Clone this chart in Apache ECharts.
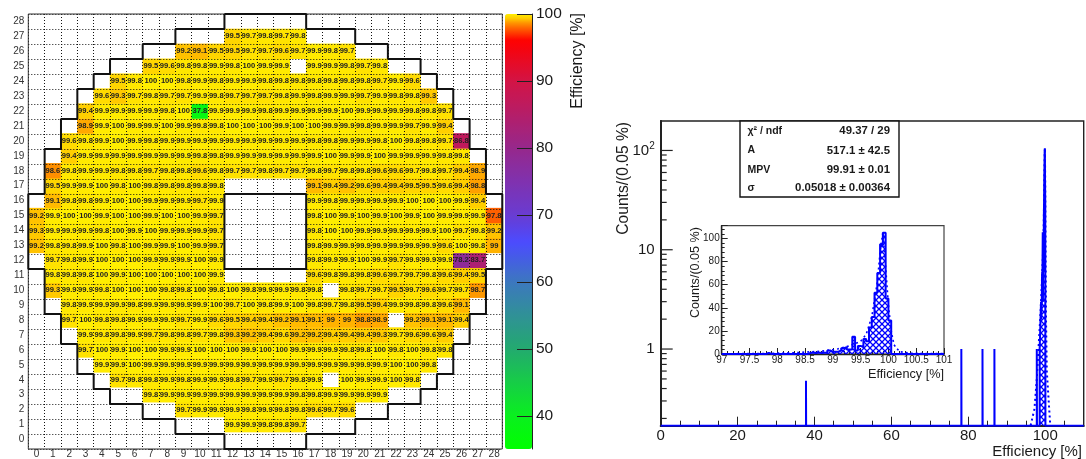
<!DOCTYPE html>
<html><head><meta charset="utf-8">
<script src="https://cdn.jsdelivr.net/npm/echarts@6/dist/echarts.min.js"></script>
<style>html,body{margin:0;padding:0;background:#fff}#c{width:1086px;height:459px}</style>
</head><body><div id="c"></div>
<script>
const colLabels = Array.from({length:29},(_,i)=>String(i));
const rowLabels = Array.from({length:29},(_,i)=>String(i));
const _ = null;
// row index -> first column, then efficiency per column (null = no value)
const rowStart = {1:12,2:9,3:7,4:5,5:4,6:3,7:3,8:2,9:2,10:1,11:1,12:1,13:0,14:0,15:0,16:1,17:1,18:1,19:2,20:2,21:3,22:3,23:4,24:5,25:7,26:9,27:12};
const rowValues = {
 27:[99.5,99.7,99.8,99.7,99.8],
 26:[99.2,99.1,99.5,99.5,99.7,99.7,99.6,99.7,99.9,99.8,99.7],
 25:[99.5,99.6,99.8,99.8,99.9,99.8,100,99.9,99.9,_,99.9,99.9,99.8,99.7,99.8],
 24:[99.5,99.8,100,100,99.8,99.9,99.8,99.9,99.9,99.8,99.8,99.8,99.8,99.8,99.8,99.8,99.7,99.9,99.6],
 23:[99.6,99.3,99.7,99.8,99.7,99.7,99.9,99.8,99.7,99.7,99.7,99.8,99.9,99.8,99.9,99.9,99.7,99.9,99.8,99.8,99.3],
 22:[99.4,99.9,99.9,99.9,99.9,99.8,100,37.8,99.9,99.9,99.9,99.8,99.9,99.9,99.9,99.9,100,99.9,99.9,99.9,99.8,99.8,99.7],
 21:[98.9,99.9,100,99.9,99.9,100,99.9,99.8,99.8,100,100,100,99.9,100,100,99.9,99.9,99.8,99.9,99.9,99.7,99.9,99.4],
 20:[99.6,99.8,99.9,100,99.9,99.8,99.9,99.9,99.9,99.9,99.9,99.9,99.9,99.9,99.9,99.8,99.8,99.9,99.9,99.8,100,99.8,99.8,99.7,86.8],
 19:[99.4,99.9,99.9,99.9,99.9,99.9,99.9,99.9,99.8,99.8,99.9,99.9,99.9,99.9,99.9,99.9,100,99.9,99.9,100,99.9,99.9,99.9,99.8,99.8],
 18:[98.6,99.8,99.9,99.9,99.8,99.8,99.7,99.8,99.8,99.6,99.8,99.7,99.7,99.8,99.7,99.7,99.8,99.7,99.8,99.8,99.6,99.6,99.7,99.8,99.7,99.4,98.9],
 17:[99.5,99.9,99.9,100,99.8,100,99.8,99.8,99.8,99.8,99.8,_,_,_,_,_,99.1,99.4,99.2,99.6,99.4,99.4,99.5,99.5,99.6,99.4,98.8],
 16:[99.1,99.8,99.8,99.9,100,100,99.9,99.9,99.9,99.7,99.9,_,_,_,_,_,99.9,99.8,99.9,99.9,99.9,99.9,100,100,100,99.9,99.4],
 15:[99.2,99.9,100,100,99.9,100,100,99.9,100,100,99.9,99.7,_,_,_,_,_,99.8,100,99.9,100,99.9,100,99.9,100,99.9,99.9,99.9,97.8],
 14:[99.3,99.9,99.9,99.9,99.8,100,99.9,100,99.9,99.9,99.9,99.7,_,_,_,_,_,99.8,100,100,99.9,99.9,99.9,99.9,99.9,100,99.7,99.8,99.2],
 13:[99.2,99.8,99.8,99.9,100,99.8,100,99.9,99.9,100,99.9,99.7,_,_,_,_,_,99.8,99.9,99.9,99.9,99.9,99.9,99.9,99.9,99.6,100,99.8,99],
 12:[99.7,99.8,99.9,100,100,100,99.9,99.9,99.9,100,99.9,_,_,_,_,_,99.8,99.9,99.9,100,99.9,99.7,99.9,99.9,99.9,78.2,83.7],
 11:[99.8,99.8,99.8,100,99.9,100,100,100,100,100,99.9,_,_,_,_,_,99.6,99.8,99.8,99.8,99.6,99.7,99.7,99.8,99.6,99.4,99.5],
 10:[99.3,99.9,99.9,99.8,100,100,100,99.8,99.8,100,99.8,100,99.8,99.9,99.9,99.8,99.8,_,99.8,99.7,99.7,99.5,99.7,99.6,99.7,99.7,98.7],
 9:[99.8,99.9,99.9,99.9,99.8,99.9,99.9,99.9,99.9,100,99.7,100,99.8,99.9,100,99.8,99.7,99.8,99.5,99.4,99.9,99.8,99.8,99.6,99.1],
 8:[99.7,100,99.8,99.8,99.9,99.9,99.9,99.7,99.9,99.6,99.5,99.4,99.4,99.2,99.1,99.1,99,99,98.8,98.9,_,99.2,99.1,99.1,99.4],
 7:[99.9,99.8,99.8,99.9,99.7,99.8,99.8,99.7,99.8,99.3,99.2,99.4,99.6,99.2,99.2,99.4,99.4,99.4,99.3,99.7,99.6,99.6,99.4],
 6:[99.7,100,99.9,100,100,99.9,99.9,100,100,100,99.9,100,100,99.9,99.9,99.9,99.8,99.8,100,99.8,100,99.8,99.8],
 5:[99.9,99.9,100,99.9,99.9,99.9,99.9,99.9,99.9,99.9,99.9,99.9,99.9,99.9,99.9,99.9,99.9,99.9,100,100,99.8],
 4:[99.7,99.8,99.8,99.9,99.8,99.9,99.9,99.8,99.7,99.9,99.7,99.8,99.9,_,100,99.9,99.9,100,99.8],
 3:[99.8,99.9,99.9,99.9,99.9,99.9,99.9,99.9,99.9,99.8,99.8,99.9,99.9,99.9,99.9],
 2:[99.7,99.9,99.9,99.9,99.8,99.9,99.8,99.8,99.6,99.7,99.6],
 1:[99.9,99.9,99.8,99.8,99.7]
};
// detector outline, in [column, row] units
const outline = [[12,29],[12,28],[9,28],[9,27],[7,27],[7,26],[5,26],[5,25],[4,25],[4,24],[3,24],[3,22],[2,22],[2,20],[1,20],[1,17],[0,17],[0,12],[1,12],[1,9],[2,9],[2,7],[3,7],[3,5],[4,5],[4,4],[5,4],[5,3],[7,3],[7,2],[9,2],[9,1],[12,1],[12,0],[17,0],[17,1],[20,1],[20,2],[22,2],[22,3],[24,3],[24,4],[25,4],[25,5],[26,5],[26,7],[27,7],[27,9],[28,9],[28,12],[29,12],[29,17],[28,17],[28,20],[27,20],[27,22],[26,22],[26,24],[25,24],[25,25],[24,25],[24,26],[22,26],[22,27],[20,27],[20,28],[17,28],[17,29],[12,29]];
const hole = [[12,17],[17,17],[17,12],[12,12],[12,17]];
const frame = [[0,0],[29,0],[29,29],[0,29],[0,0]];
const colorbarTicks = [40,50,60,70,80,90,100];
const paletteStops = [[35.1,[0,255,0]],[40,[10,240,30]],[50,[35,170,110]],[60,[60,120,190]],[66,[75,75,255]],[70,[105,60,210]],[80,[150,40,140]],[90,[210,20,70]],[96.2,[255,0,0]],[98.6,[255,135,0]],[99.3,[255,195,0]],[100,[255,238,0]]];

// histogram of cell efficiencies, 0.05 % bins starting at 97
const binStart = 97, binWidth = 0.05;
const binCounts = [
 0,0,0,0,0,0,0,0,0,0, 0,0,0,0,0,0,1,0,0,0,
 0,0,0,0,0,0,0,0,0,0, 0,1,1,1,1,1,1,1,3,2,
 2,2,3,5,6,4,4,15,3,7, 6,13,11,23,32,53,70,95,105,48,
 29,0,0,0,0,0,0,0,0,0, 0,0,0,0,0,0,0,0,0,0];
const outlierX = [37.8,78.2,83.7,86.8];
const outlierCounts = [0.48,1,1,1];
const fitCurve = [[96.2,0.17],[97.2,0.25],[97.8,0.5],[98.3,1.1],[98.8,2.4],[99.1,4.5],[99.3,7],[99.5,11],[99.6,17],[99.7,32],[99.8,62],[99.85,88],[99.9,105],[99.95,75],[100,42],[100.05,20],[100.1,8],[100.2,2],[100.4,0.6],[101.3,0.17]];
const logMin = 0.169, logMax = 198;
const yMajor = [1,10,100];
const yMinor = [0.2,0.3,0.4,0.5,0.6,0.7,0.8,0.9,2,3,4,5,6,7,8,9,20,30,40,50,60,70,80,90];
const statNames = ['χ² / ndf','A','MPV','σ'];
const statVals = ['49.37 / 29','517.1 ± 42.5','99.91 ± 0.01','0.05018 ± 0.00364'];

const FONT = '"Liberation Sans", Arial, sans-serif';
const heatData = [];
Object.keys(rowValues).forEach(r => rowValues[r].forEach((v,i) => { if (v !== null) heatData.push([rowStart[r]+i, +r, v]); }));

function lerpPalette(){
  const out = [];
  for (let v = 35.1; v <= 100.0001; v += 0.25) {
    let k = 0; while (k < paletteStops.length-2 && v > paletteStops[k+1][0]) k++;
    const a = paletteStops[k], b = paletteStops[k+1], t = (v-a[0])/(b[0]-a[0]);
    const c = a[1].map((x,i)=>Math.round(x+(b[1][i]-x)*t));
    out.push('rgb('+c.join(',')+')');
  }
  out.push('rgb(255,238,0)');
  return out;
}
const hatch = document.createElement('canvas'); hatch.width = 6; hatch.height = 6;
(function(){ const g = hatch.getContext('2d'); g.strokeStyle='#0000ff'; g.lineWidth=1.3;
  g.beginPath(); g.moveTo(0,0); g.lineTo(6,6); g.moveTo(6,0); g.lineTo(0,6); g.stroke(); })();
const hatchFill = {image:hatch, repeat:'repeat'};

function edge(i){ return +(binStart + i*binWidth).toFixed(2); }
function insetPath(){
  const p = [];
  binCounts.forEach((c,i)=>{ p.push([edge(i),c]); p.push([edge(i+1),c]); });
  return p;
}
function mainPath(){
  const p = [[0,logMin]];
  outlierX.forEach((x,i)=>{ p.push([x-0.02,logMin],[x-0.02,outlierCounts[i]],[x+0.02,outlierCounts[i]],[x+0.02,logMin]); });
  let prev = 0;
  binCounts.forEach((c,i)=>{
    if (c>0){ if(!prev) p.push([edge(i),logMin]); p.push([edge(i),c],[edge(i+1),c]); }
    else if (prev){ p.push([edge(i),logMin]); }
    prev = c;
  });
  p.push([110,logMin]);
  return p;
}
const tickData = yMajor.map(v=>[0,v,1]).concat(yMinor.map(v=>[0,v,0]));
const graphics = [];
function txt(text,x,y,size,opt){ opt=opt||{};
  graphics.push(Object.assign({type:'text',x:x,y:y,z:20,silent:true,rotation:opt.rot||0,style:{text:text,fill:opt.fill||'#1a1a1a',font:(opt.bold?'bold ':'')+size+'px '+FONT,align:opt.align||'left',verticalAlign:'middle'}}));
}
txt('Efficiency [%]',578,13,16,{rot:Math.PI/2,align:'right'});
txt('Counts/(0.05 %)',624,122,15.6,{rot:Math.PI/2,align:'right'});
txt('Efficiency [%]',1082,452,15,{align:'right'});
txt('Counts/(0.05 %)',696,227,12.6,{rot:Math.PI/2,align:'right'});
txt('Efficiency [%]',944,374,12.7,{align:'right'});
graphics.push({type:'rect',z:19,silent:true,shape:{x:740,y:121,width:159,height:76},style:{fill:'#fff',stroke:'#111',lineWidth:1.4}});
const statY=[131,150.5,170,188];
statNames.forEach((s,i)=>{ txt(s,747.5,statY[i],10.5,{bold:true}); txt(statVals[i],890,statY[i],11.4,{align:'right',bold:true}); });

const chart = echarts.init(document.getElementById('c'),null,{renderer:'canvas'});
chart.setOption({
  animation:false, backgroundColor:'#fff',
  textStyle:{fontFamily:FONT},
  grid:[
    {left:28.3,top:14,width:474,height:435},
    {left:28.3,top:14,width:474,height:435},
    {left:505,top:14,width:27,height:435},
    {left:660.7,top:121,width:423,height:304.7,show:true,borderColor:'#222',borderWidth:1.4},
    {left:721.7,top:225.7,width:222.3,height:128.3,show:true,borderColor:'#444',borderWidth:1.2}
  ],
  xAxis:[
    {type:'category',gridIndex:0,data:colLabels,axisLine:{show:false},axisTick:{show:false},splitLine:{show:false},
      axisLabel:{interval:0,fontSize:10,margin:2,color:'#333'}},
    {type:'value',gridIndex:1,min:0,max:29,interval:1,z:3,axisLine:{show:false},axisTick:{show:false},axisLabel:{show:false},
      splitLine:{show:true,lineStyle:{type:[1,2],color:'#111',width:1}}},
    {type:'value',gridIndex:2,min:0,max:1,show:false},
    {type:'value',gridIndex:3,min:0,max:110,interval:20,z:3,splitLine:{show:false},
      axisLine:{onZero:false,lineStyle:{color:'#222',width:2}},
      axisTick:{inside:true,length:9,lineStyle:{color:'#222'}},
      minorTick:{show:true,splitNumber:4,length:5,lineStyle:{color:'#222'}},
      axisLabel:{fontSize:15,margin:3,color:'#1a1a1a',showMaxLabel:false}},
    {type:'value',gridIndex:4,min:97,max:101,interval:0.5,z:3,splitLine:{show:false},
      axisLine:{onZero:false,lineStyle:{color:'#222',width:1.4}},
      axisTick:{inside:true,length:6,lineStyle:{color:'#222'}},
      minorTick:{show:true,splitNumber:5,length:3,lineStyle:{color:'#222'}},
      axisLabel:{fontSize:10,margin:1,color:'#1a1a1a'}}
  ],
  yAxis:[
    {type:'category',gridIndex:0,data:rowLabels,axisLine:{show:false},axisTick:{show:false},splitLine:{show:false},
      axisLabel:{interval:0,fontSize:10,margin:4,color:'#333'}},
    {type:'value',gridIndex:1,min:0,max:29,interval:1,z:3,axisLine:{show:false},axisTick:{show:false},axisLabel:{show:false},
      splitLine:{show:true,lineStyle:{type:[1,2],color:'#111',width:1}}},
    {type:'value',gridIndex:2,position:'right',min:35.1,max:100,z:6,splitLine:{show:false},
      axisLine:{show:true,onZero:false,lineStyle:{color:'#222',width:1}},
      axisTick:{show:true,inside:true,length:15,customValues:colorbarTicks,lineStyle:{color:'#222',width:1}},
      axisLabel:{fontSize:15.5,margin:4,color:'#1a1a1a',customValues:colorbarTicks}},
    {type:'log',logBase:10,gridIndex:3,min:logMin,max:logMax,z:3,splitLine:{show:false},minorSplitLine:{show:false},
      axisLine:{show:true,onZero:false,lineStyle:{color:'#222',width:2}},
      axisTick:{show:false},minorTick:{show:false},
      axisLabel:{fontSize:15,margin:6,color:'#1a1a1a',showMinLabel:false,showMaxLabel:false,
        formatter:function(v){ const r=Math.round(v); if(Math.abs(v-r)>1e-6) return ''; return r===100?'10{s|2}':(r===10||r===1?String(r):''); },
        rich:{s:{fontSize:10,verticalAlign:'top',padding:[0,0,8,0],fontFamily:FONT,color:'#1a1a1a'}}}},
    {type:'value',gridIndex:4,min:0,max:111,interval:20,z:3,splitLine:{show:false},
      axisLine:{show:true,onZero:false,lineStyle:{color:'#222',width:1.4}},
      axisTick:{inside:true,length:6,lineStyle:{color:'#222'}},
      minorTick:{show:true,splitNumber:5,length:3,lineStyle:{color:'#222'}},
      axisLabel:{fontSize:10,margin:2,color:'#1a1a1a',showMaxLabel:false}}
  ],
  visualMap:{type:'continuous',z:1,min:35.1,max:100,dimension:2,seriesIndex:0,left:505,top:14,itemWidth:27,itemHeight:435,padding:0,
    showLabel:false,calculable:false,hoverLink:false,inRange:{color:lerpPalette()}},
  series:[
    {type:'heatmap',xAxisIndex:0,yAxisIndex:0,data:heatData,z:2,silent:true,progressive:0,
      label:{show:true,fontSize:7.6,fontWeight:'bold',color:'#222',fontFamily:FONT,formatter:p=>String(p.value[2])},
      itemStyle:{borderWidth:0},emphasis:{disabled:true}},
    {type:'line',name:'outline',xAxisIndex:1,yAxisIndex:1,data:outline,symbol:'none',clip:false,z:4,silent:true,lineStyle:{color:'#111',width:2},itemStyle:{color:'#111'}},
    {type:'line',name:'hole',xAxisIndex:1,yAxisIndex:1,data:hole,symbol:'none',clip:false,z:4,silent:true,lineStyle:{color:'#111',width:2},itemStyle:{color:'#111'}},
    {type:'line',name:'frame',xAxisIndex:1,yAxisIndex:1,data:frame,symbol:'none',clip:false,z:3,silent:true,lineStyle:{color:'#333',width:1},itemStyle:{color:'#333'}},
    {type:'line',name:'main',xAxisIndex:3,yAxisIndex:3,data:mainPath(),symbol:'none',z:4,silent:true,
      lineStyle:{color:'#0000ff',width:2},itemStyle:{color:'#0000ff'},areaStyle:{origin:'start',color:hatchFill,opacity:1}},
    {type:'line',name:'mainFit',xAxisIndex:3,yAxisIndex:3,data:fitCurve,symbol:'none',z:4,silent:true,lineStyle:{color:'#0000ff',width:2,type:[2,3]},itemStyle:{color:'#0000ff'}},
    {type:'custom',name:'yticks',xAxisIndex:3,yAxisIndex:3,data:tickData,clip:false,z:5,silent:true,encode:{x:0,y:1},
      renderItem:function(params,api){ const p=api.coord([api.value(0),api.value(1)]); const len=api.value(2)?12:6;
        return {type:'line',shape:{x1:p[0],y1:p[1],x2:p[0]+len,y2:p[1]},style:{stroke:'#222',lineWidth:1.2}}; }},
    {type:'line',name:'inset',xAxisIndex:4,yAxisIndex:4,data:insetPath(),symbol:'none',z:4,silent:true,
      lineStyle:{color:'#0000ff',width:2},itemStyle:{color:'#0000ff'},areaStyle:{color:hatchFill,opacity:1}},
    {type:'line',name:'insetFit',xAxisIndex:4,yAxisIndex:4,data:fitCurve,symbol:'none',z:4,silent:true,lineStyle:{color:'#0000ff',width:1.6,type:[2,3]},itemStyle:{color:'#0000ff'}}
  ],
  graphic:{elements:graphics}
});
</script></body></html>
